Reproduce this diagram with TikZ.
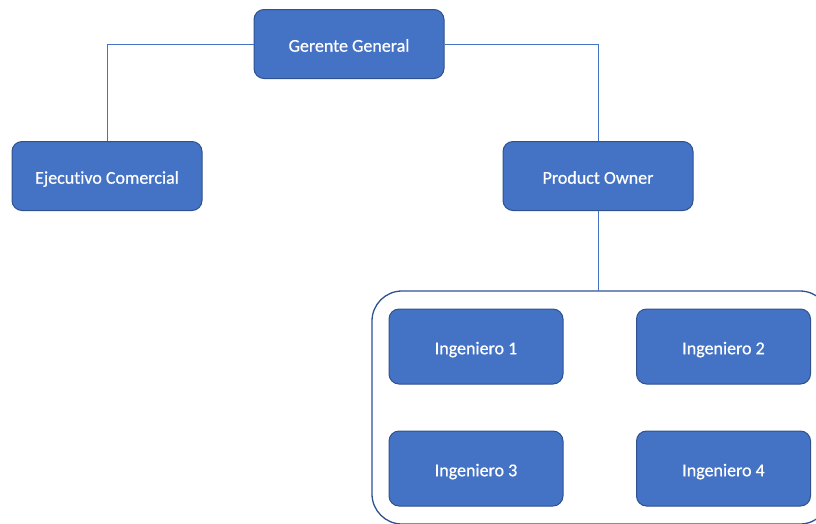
\documentclass[tikz,border=0pt]{standalone}
\usepackage{fontspec}
\setmainfont{Carlito}[Ligatures=NoCommon]
\newfontfamily\boxfont{Carlito}[Ligatures=NoCommon,FakeBold=0.6]
\definecolor{boxfill}{HTML}{4472C4}
\definecolor{boxedge}{HTML}{2F528F}
\definecolor{linkc}{HTML}{4472C4}
\begin{document}
\begin{tikzpicture}[x=1pt,y=-1pt,
  orgbox/.style={draw=boxedge,line width=1pt,fill=boxfill,rounded corners=10pt,
    text=white,font=\boxfont\fontsize{18}{21}\selectfont,text height=15.4pt,text depth=0pt,
    minimum width=190pt,minimum height=69pt,inner sep=0pt},
  engbox/.style={orgbox,minimum width=174pt,minimum height=75pt},
  link/.style={draw=linkc,line width=0.8pt}]
\useasboundingbox (0,0) rectangle (816,523);
\begin{scope}
\clip (0,0) rectangle (816,523);
\draw[draw=boxedge,line width=1.3pt,rounded corners=30pt] (372,291) rectangle (830,524);
\end{scope}
\coordinate (grp) at (598,291);
\node[orgbox] (gg) at (349,44) {Gerente General};
\node[orgbox] (ec) at (107,176) {Ejecutivo Comercial};
\node[orgbox] (po) at (598,176) {Product Owner};
\node[engbox] (i1) at (476,346.5) {Ingeniero 1};
\node[engbox] (i2) at (723.5,346.5) {Ingeniero 2};
\node[engbox] (i3) at (476,468.5) {Ingeniero 3};
\node[engbox] (i4) at (723.5,468.5) {Ingeniero 4};
\draw[link] (gg.west) -| (ec.north);
\draw[link] (gg.east) -| (po.north);
\draw[link] (po.south) -- (grp);
\end{tikzpicture}
\end{document}
